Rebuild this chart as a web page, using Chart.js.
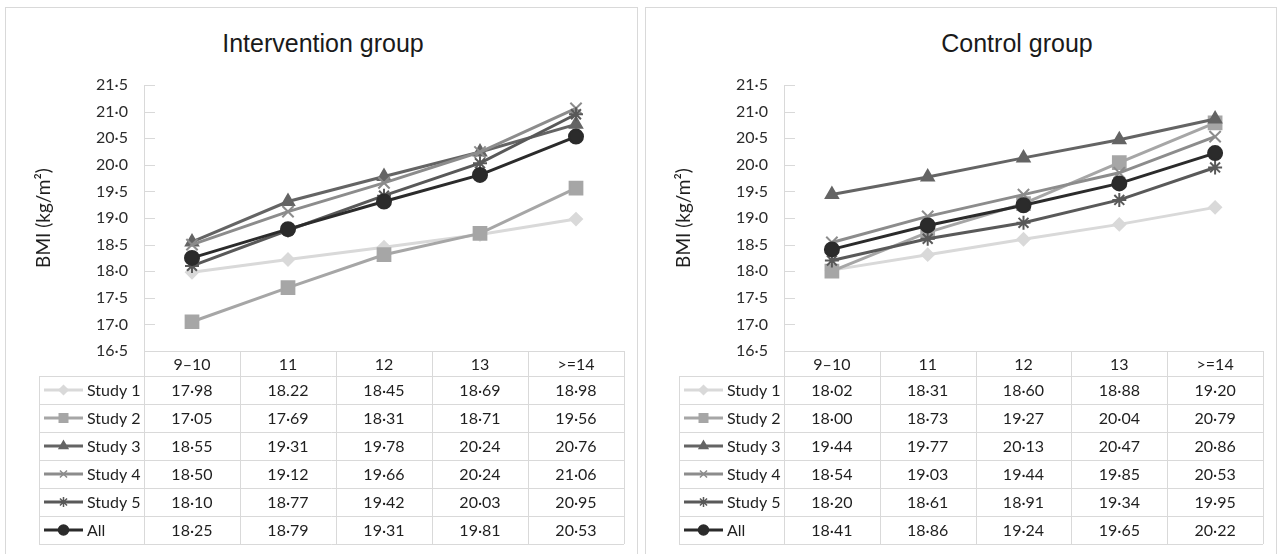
<!DOCTYPE html>
<html lang="en">
<head>
<meta charset="utf-8">
<title>BMI by age group - intervention and control</title>
<script src="https://cdn.jsdelivr.net/npm/chart.js@4.4.1/dist/chart.umd.min.js"></script>
<style>
    html, body { margin: 0; padding: 0; background: #fff; overflow: hidden; }
    body { width: 1284px; height: 554px; position: relative; font-family: Lato, sans-serif; }
    .panel { position: absolute; top: 7px; height: 570px; border: 1px solid #d9d9d9; box-sizing: border-box; }
    .panel h2 {
        position: absolute; top: 20px; margin: 0; line-height: 30px;
        font: 400 25px/30px "Liberation Sans", Arial, sans-serif; color: #1a1a1a;
        white-space: nowrap; transform: translateX(-50%);
    }
    .panel canvas { position: absolute; left: 0; top: 0; }
</style>
</head>
<body>

<div class="panel" style="left:5px; width:633px;">
    <h2 style="left:317px;">Intervention group</h2>
    <canvas id="intChart" width="631" height="546"></canvas>
</div>

<div class="panel" style="left:645px; width:632px;">
    <h2 style="left:371px;">Control group</h2>
    <canvas id="ctlChart" width="630" height="546"></canvas>
</div>

<script>
const ageGroups = ['9\u201310', '11', '12', '13', '>=14'];
const studyNames = ['Study 1', 'Study 2', 'Study 3', 'Study 4', 'Study 5', 'All'];
const yMin = 16.5;
const yMax = 21.5;
const yStep = 0.5;

const intStudy1 = [17.98, 18.22, 18.45, 18.69, 18.98];
const intStudy2 = [17.05, 17.69, 18.31, 18.71, 19.56];
const intStudy3 = [18.55, 19.31, 19.78, 20.24, 20.76];
const intStudy4 = [18.50, 19.12, 19.66, 20.24, 21.06];
const intStudy5 = [18.10, 18.77, 19.42, 20.03, 20.95];
const intAll    = [18.25, 18.79, 19.31, 19.81, 20.53];

const ctlStudy1 = [18.02, 18.31, 18.60, 18.88, 19.20];
const ctlStudy2 = [18.00, 18.73, 19.27, 20.04, 20.79];
const ctlStudy3 = [19.44, 19.77, 20.13, 20.47, 20.86];
const ctlStudy4 = [18.54, 19.03, 19.44, 19.85, 20.53];
const ctlStudy5 = [18.20, 18.61, 18.91, 19.34, 19.95];
const ctlAll    = [18.41, 18.86, 19.24, 19.65, 20.22];

// one cell in the original table is printed with a full stop
const intPrintedAsIs = { '0,1': '18.22' };

// ---- styles ----
const seriesColors  = ['#d9d9d9', '#a6a6a6', '#646464', '#8c8c8c', '#595959', '#2b2b2b'];
const seriesMarkers = ['rectRot', 'rect', 'triangle', 'crossRot', 'star', 'circle'];
const markerRadius  = [6, 9, 7, 8, 7, 7];
const keyRadius     = [4.5, 6, 5, 5, 5, 5];
const gridColor = '#d9d9d9';

Chart.defaults.font.family = 'Lato, sans-serif';

function fmt(v, digits) {
    return v.toFixed(digits).replace('.', '\u00B7');
}

// draws the inward y tick marks and the data table under the plot
const dataTable = {
    id: 'dataTable',
    afterDraw(chart, args, opts) {
        const {ctx, chartArea} = chart;
        const n = chart.data.labels.length;
        const band = (chartArea.right - chartArea.left) / n;
        const top = chartArea.bottom;
        const headBottom = top + opts.headerHeight;
        const sets = chart.data.datasets;
        const bottom = headBottom + sets.length * opts.rowHeight;
        const labelLeft = opts.labelLeft;

        ctx.save();
        ctx.strokeStyle = gridColor;
        ctx.lineWidth = 1;

        // y tick marks pointing into the plot
        const y = chart.scales.y;
        y.ticks.forEach(t => {
            const py = Math.round(y.getPixelForValue(t.value)) + 0.5;
            ctx.beginPath();
            ctx.moveTo(chartArea.left, py);
            ctx.lineTo(chartArea.left + 11, py);
            ctx.stroke();
        });

        // horizontal rules
        for (let r = 0; r <= sets.length; r++) {
            const py = Math.round(headBottom + r * opts.rowHeight) + 0.5;
            ctx.beginPath();
            ctx.moveTo(labelLeft, py);
            ctx.lineTo(chartArea.right, py);
            ctx.stroke();
        }
        // vertical rules
        for (let c = 0; c <= n; c++) {
            const px = Math.round(chartArea.left + c * band) + 0.5;
            ctx.beginPath();
            ctx.moveTo(px, top);
            ctx.lineTo(px, bottom);
            ctx.stroke();
        }
        ctx.beginPath();
        ctx.moveTo(labelLeft + 0.5, headBottom);
        ctx.lineTo(labelLeft + 0.5, bottom);
        ctx.stroke();

        ctx.font = '16px Lato, sans-serif';
        ctx.textBaseline = 'middle';
        sets.forEach((ds, r) => {
            const cy = headBottom + (r + 0.5) * opts.rowHeight;
            // legend key
            ctx.strokeStyle = ds.borderColor;
            ctx.fillStyle = ds.backgroundColor;
            ctx.lineWidth = 3;
            ctx.beginPath();
            ctx.moveTo(labelLeft + 5, cy);
            ctx.lineTo(labelLeft + 44, cy);
            ctx.stroke();
            ctx.lineWidth = 1.5;
            Chart.helpers.drawPoint(ctx, {
                pointStyle: ds.pointStyle, rotation: 0,
                radius: keyRadius[r], borderWidth: 1.5
            }, labelLeft + 24.5, cy);

            ctx.fillStyle = '#1f1f1f';
            ctx.textAlign = 'left';
            ctx.fillText(ds.label, labelLeft + 48, cy + 1);

            ctx.textAlign = 'center';
            ds.data.forEach((v, c) => {
                const txt = opts.printed[r + ',' + c] || fmt(v, 2);
                ctx.fillText(txt, chartArea.left + (c + 0.5) * band, cy + 1);
            });
        });
        ctx.restore();
    }
};

function makeChart(id, series, printed, padRight) {
    const datasets = series.map((vals, i) => ({
        label: studyNames[i],
        data: vals,
        borderColor: seriesColors[i],
        backgroundColor: seriesColors[i],
        borderWidth: 3,
        pointStyle: seriesMarkers[i],
        pointRadius: markerRadius[i],
        pointBorderWidth: 2,
        pointHoverRadius: markerRadius[i],
        order: series.length - 1 - i,
        tension: 0
    }));

    return new Chart(document.getElementById(id), {
        type: 'line',
        data: { labels: ageGroups, datasets: datasets },
        options: {
            responsive: false,
            animation: false,
            devicePixelRatio: 1,
            events: [],
            layout: { padding: { left: 20, top: 77, right: padRight, bottom: 178 } },
            plugins: {
                legend: { display: false },
                tooltip: { enabled: false },
                title: { display: false },
                dataTable: { headerHeight: 25, rowHeight: 28, labelLeft: 33, printed: printed }
            },
            scales: {
                x: {
                    offset: true,
                    grid: { display: false, drawTicks: false },
                    border: { display: true, color: gridColor, width: 1 },
                    ticks: { color: '#1f1f1f', font: { size: 16 }, padding: 4, maxRotation: 0 },
                    afterFit: s => { s.height = 25; }
                },
                y: {
                    min: yMin,
                    max: yMax,
                    grid: { display: false, drawTicks: false },
                    border: { display: true, color: gridColor, width: 1 },
                    ticks: {
                        stepSize: yStep,
                        color: '#2b2b2b',
                        font: { size: 16 },
                        padding: 16,
                        callback: v => fmt(v, 1)
                    },
                    title: {
                        display: true,
                        text: 'BMI (kg/m\u00B2)',
                        color: '#1f1f1f',
                        font: { size: 19 },
                        padding: { top: 6, bottom: 0 }
                    },
                    afterFit: s => { s.width = 118; }
                }
            }
        },
        plugins: [dataTable]
    });
}

makeChart('intChart',
    [intStudy1, intStudy2, intStudy3, intStudy4, intStudy5, intAll],
    intPrintedAsIs, 13);
makeChart('ctlChart',
    [ctlStudy1, ctlStudy2, ctlStudy3, ctlStudy4, ctlStudy5, ctlAll],
    {}, 13);
</script>
</body>
</html>
